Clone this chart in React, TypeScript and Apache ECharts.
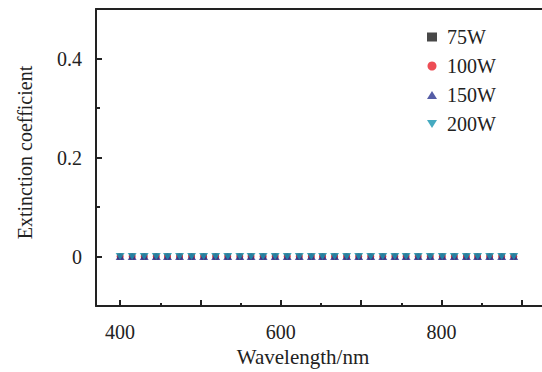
import React, { useEffect, useRef } from "react";
import * as echarts from "echarts";

const wavelengths = [
  400, 415, 430, 445, 459, 474, 489, 504, 519, 534, 549, 563, 578, 593, 608, 623, 638,
  652, 667, 682, 697, 712, 727, 742, 756, 771, 786, 801, 816, 831, 845, 860, 875, 890,
];
const k75W = [0, 0, 0, 0, 0, 0, 0, 0, 0, 0, 0, 0, 0, 0, 0, 0, 0, 0, 0, 0, 0, 0, 0, 0, 0, 0, 0, 0, 0, 0, 0, 0, 0, 0];
const k100W = [0, 0, 0, 0, 0, 0, 0, 0, 0, 0, 0, 0, 0, 0, 0, 0, 0, 0, 0, 0, 0, 0, 0, 0, 0, 0, 0, 0, 0, 0, 0, 0, 0, 0];
const k150W = [0, 0, 0, 0, 0, 0, 0, 0, 0, 0, 0, 0, 0, 0, 0, 0, 0, 0, 0, 0, 0, 0, 0, 0, 0, 0, 0, 0, 0, 0, 0, 0, 0, 0];
const k200W = [0, 0, 0, 0, 0, 0, 0, 0, 0, 0, 0, 0, 0, 0, 0, 0, 0, 0, 0, 0, 0, 0, 0, 0, 0, 0, 0, 0, 0, 0, 0, 0, 0, 0];

const seriesNames = ["75W", "100W", "150W", "200W"];
const xMajorTicks = [400, 500, 600, 700, 800, 900];
const xMinorTicks = [450, 550, 650, 750, 850, 950];
const xLabels = [400, 600, 800];
const yMajorTicks = [0, 0.2, 0.4];
const yMinorTicks = [0.1, 0.3];
const yLabels = [0, 0.2, 0.4];

const FONT = "Liberation Serif";
const INK = "#222";
const TRI_UP = "path://M5,0 L10,8 L0,8 Z";
const TRI_DOWN = "path://M0,0 L10,0 L5,8 Z";

const X_MIN = 370;
const X_MAX = 957.5;
const Y_MIN = -0.1;
const Y_MAX = 0.5;

export default function App() {
  const ref = useRef<HTMLDivElement>(null);
  useEffect(() => {
    if (!ref.current) return;
    const chart = echarts.init(ref.current, null, { renderer: "svg" });
    const mk = (vals: number[]) => wavelengths.map((w, i) => [w, vals[i]]);
    const gridRect = { left: 96, top: 9, width: 472, height: 297, outerBoundsMode: "none", containLabel: false };
    chart.setOption({
      animation: false,
      textStyle: { fontFamily: FONT },
      grid: [
        { ...gridRect, show: false },
        { ...gridRect, show: false },
      ],
      legend: {
        orient: "vertical",
        left: 422,
        top: 22,
        itemWidth: 10,
        itemHeight: 9,
        itemGap: 9,
        symbolKeepAspect: true,
        data: seriesNames,
        textStyle: { fontFamily: FONT, fontSize: 20, color: INK, lineHeight: 20, padding: [0, 0, 0, 5] },
      },
      xAxis: [
        {
          type: "value",
          gridIndex: 0,
          position: "bottom",
          min: X_MIN,
          max: X_MAX,
          name: "Wavelength/nm",
          nameLocation: "middle",
          nameGap: 39,
          nameTextStyle: { fontFamily: FONT, fontSize: 21, color: INK, padding: [0, 58, 0, 0] },
          axisLine: { show: true, onZero: false, lineStyle: { color: INK, width: 2 } },
          axisTick: { show: true, inside: true, length: 6, customValues: xMajorTicks, lineStyle: { color: INK, width: 2 } },
          axisLabel: { show: true, margin: 16, customValues: xLabels, fontFamily: FONT, fontSize: 20, color: INK },
          splitLine: { show: false },
        },
        {
          type: "value",
          gridIndex: 0,
          position: "top",
          min: X_MIN,
          max: X_MAX,
          axisLine: { show: true, onZero: false, lineStyle: { color: INK, width: 2 } },
          axisTick: { show: false },
          axisLabel: { show: false },
          splitLine: { show: false },
        },
        {
          type: "value",
          gridIndex: 1,
          position: "bottom",
          min: X_MIN,
          max: X_MAX,
          axisLine: { show: false, onZero: false },
          axisLabel: { show: false },
          splitLine: { show: false },
          axisTick: { show: true, inside: true, length: 3, customValues: xMinorTicks, lineStyle: { color: INK, width: 2 } },
        },
      ],
      yAxis: [
        {
          type: "value",
          gridIndex: 0,
          position: "left",
          min: Y_MIN,
          max: Y_MAX,
          name: "Extinction coefficient",
          nameLocation: "middle",
          nameGap: 61,
          nameRotate: 90,
          nameTextStyle: { fontFamily: FONT, fontSize: 20, color: INK, padding: [0, 0, 0, 10] },
          axisLine: { show: true, onZero: false, lineStyle: { color: INK, width: 2 } },
          axisTick: { show: true, inside: true, length: 6, customValues: yMajorTicks, lineStyle: { color: INK, width: 2 } },
          axisLabel: {
            show: true,
            margin: 14,
            customValues: yLabels,
            fontFamily: FONT,
            fontSize: 20,
            color: INK,
            formatter: (v: number) => (v === 0 ? "0" : String(Math.round(v * 10) / 10)),
          },
          splitLine: { show: false },
        },
        {
          type: "value",
          gridIndex: 1,
          position: "left",
          min: Y_MIN,
          max: Y_MAX,
          axisLine: { show: false, onZero: false },
          axisLabel: { show: false },
          splitLine: { show: false },
          axisTick: { show: true, inside: true, length: 4, customValues: yMinorTicks, lineStyle: { color: INK, width: 2 } },
        },
      ],
      series: [
        { name: "75W", type: "scatter", xAxisIndex: 0, yAxisIndex: 0, symbol: "rect", symbolSize: 6, itemStyle: { color: "#1a1a1a" }, data: mk(k75W) },
        { name: "100W", type: "scatter", xAxisIndex: 0, yAxisIndex: 0, symbol: "circle", symbolSize: 7, itemStyle: { color: "#e8212b" }, data: mk(k100W) },
        { name: "150W", type: "scatter", xAxisIndex: 0, yAxisIndex: 0, symbol: TRI_UP, symbolSize: [9, 7], itemStyle: { color: "#2a3590" }, data: mk(k150W) },
        { name: "200W", type: "scatter", xAxisIndex: 0, yAxisIndex: 0, symbol: TRI_DOWN, symbolSize: [9, 7], itemStyle: { color: "#1695b0" }, data: mk(k200W) },
      ],
    });
    return () => chart.dispose();
  }, []);
  return <div ref={ref} style={{ position: "fixed", left: 0, top: 0, width: 600, height: 372, background: "#fff" }} />;
}
